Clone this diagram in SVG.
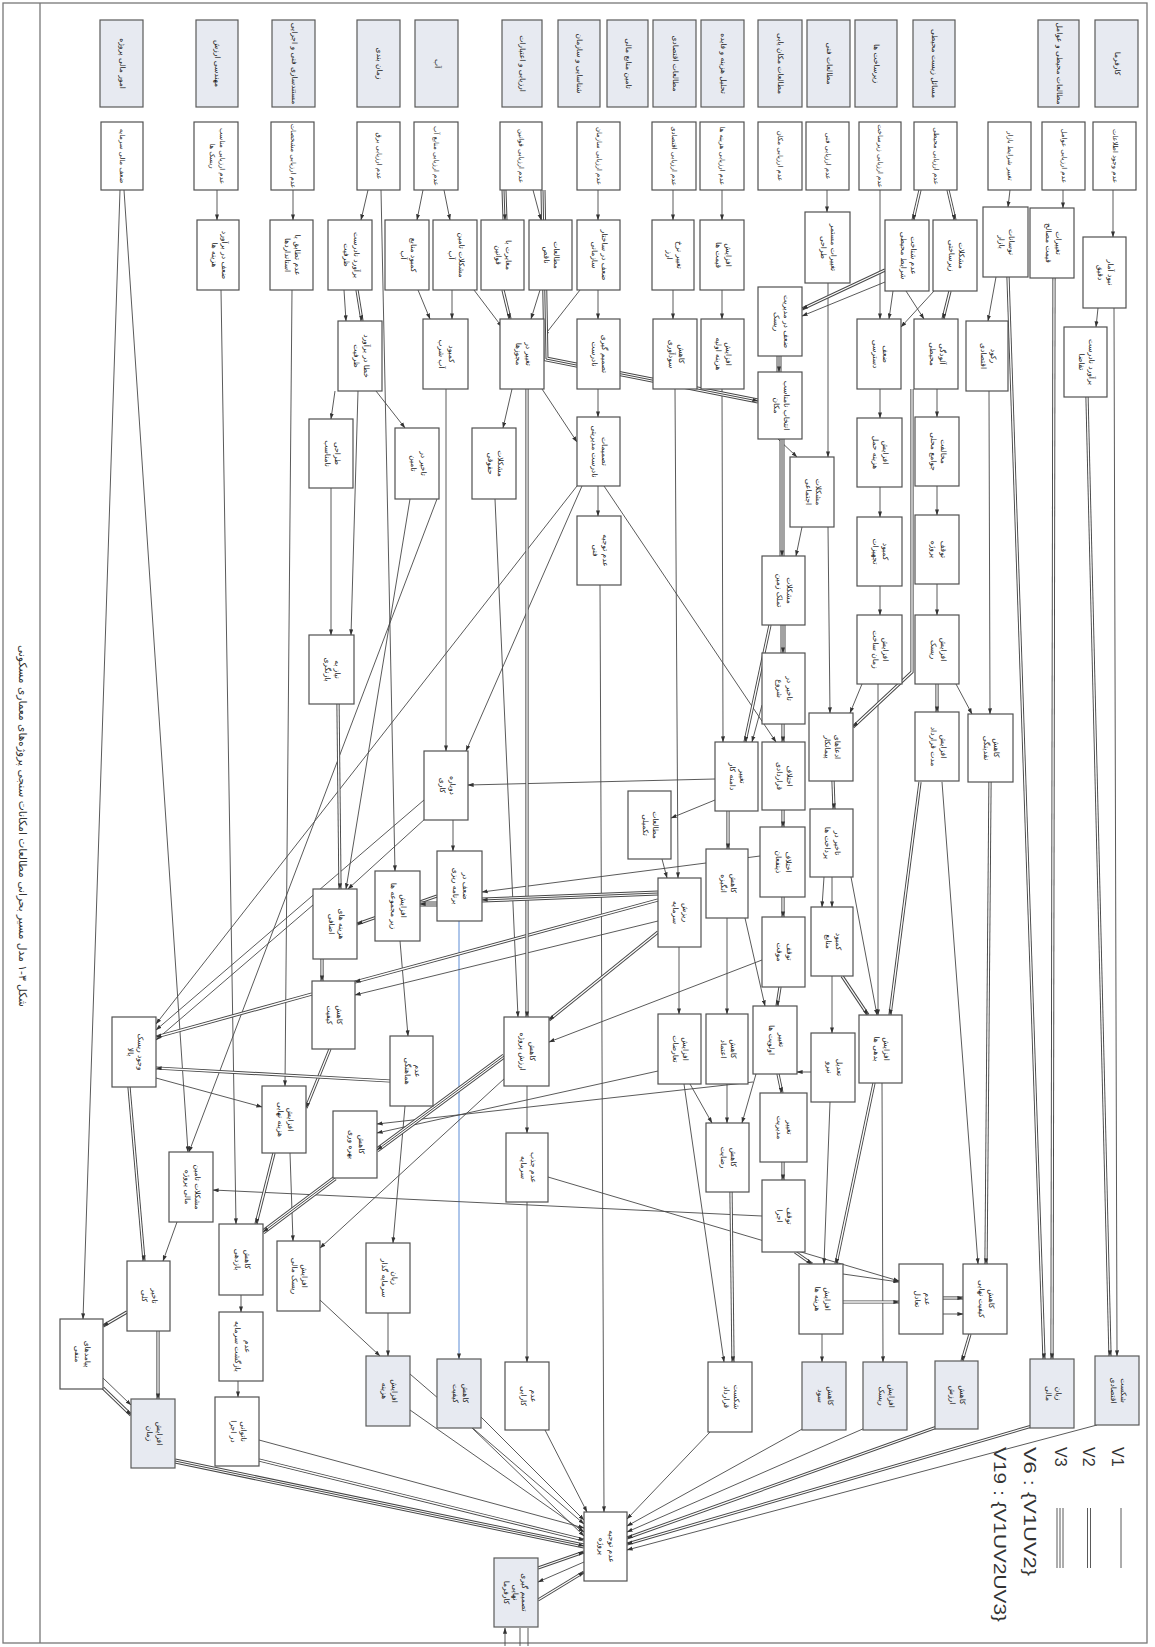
<svg xmlns="http://www.w3.org/2000/svg" width="1155" height="1647" viewBox="0 0 1155 1647">
<style>
.b rect{fill:#fff;stroke:#505050;stroke-width:1.2}
.h rect{fill:#e7eaf1;stroke:#5a5a5a;stroke-width:1.2}
text{font-family:"DejaVu Sans","Noto Sans",sans-serif;font-size:7.5px;fill:#1c1c1c;text-anchor:middle}
.sr text{font-size:6.8px}
.s{fill:none;stroke:#474747;stroke-width:0.9;marker-end:url(#a)}
.u{fill:none;stroke:#474747;stroke-width:0.9}
.bl{stroke:#4a7fd0}
.d polyline,.t polyline{fill:none}
.d :nth-child(1){stroke:#474747;stroke-width:3.2}
.d :nth-child(2){stroke:#fff;stroke-width:1.3;marker-end:url(#a)}
.t :nth-child(1){stroke:#474747;stroke-width:5}
.t :nth-child(2){stroke:#fff;stroke-width:3}
.t :nth-child(3){stroke:#474747;stroke-width:1;marker-end:url(#a)}
.lg{font-family:"Liberation Sans",Arial,sans-serif;font-size:16px;fill:#333;text-anchor:start}
.cap{font-size:11px;fill:#333}
.fr{fill:none;stroke:#777;stroke-width:1.3}
</style>
<defs>
<marker id="a" viewBox="0 0 8 6" refX="7.5" refY="3" markerWidth="6" markerHeight="4.5" orient="auto" markerUnits="userSpaceOnUse"><path d="M0,0.3L8,3L0,5.7z" fill="#333"/></marker>
</defs>
<rect width="1155" height="1647" fill="#fff"/>
<g id="frame">
<rect class="fr" x="3" y="3" width="1144" height="1640"/>
<line class="fr" x1="40" y1="3" x2="40" y2="1643"/>
<text class="cap" transform="translate(19,826) rotate(90)" textLength="362" lengthAdjust="spacingAndGlyphs">شکل ۳-۱ مدل مسیر بحرانی مطالعات امکانات سنجی پروژه‌های معماری مسکونی</text>
</g>
<g id="connectors">
<polyline class="s" points="124,190 188,1152"/>
<polyline class="s" points="120,190 83,1319"/>
<polyline class="s" points="217,190 217,220"/>
<polyline class="s" points="221,290 236,1224"/>
<polyline class="s" points="293,190 293,220"/>
<polyline class="s" points="292,290 285,1086"/>
<polyline class="s" points="368,190 361,220"/>
<polyline class="s" points="381,190 395,871"/>
<polyline class="s" points="344,290 346,321"/>
<polyline class="s" points="335,391 331,419"/>
<polyline class="s" points="358,391 351,635"/>
<polyline class="s" points="376,391 405,428"/>
<polyline class="s" points="331,488 331,635"/>
<polyline class="s" points="423,190 417,220"/>
<polyline class="s" points="444,190 450,220"/>
<polyline class="s" points="418,290 430,319"/>
<polyline class="s" points="452,290 452,319"/>
<polyline class="s" points="474,290 502,327"/>
<polyline class="s" points="446,389 446,751"/>
<polyline class="s" points="533,190 541,220"/>
<polyline class="s" points="540,290 531,319"/>
<polyline class="s" points="580,290 544,336"/>
<polyline class="s" points="598,190 598,220"/>
<polyline class="s" points="598,290 598,319"/>
<polyline class="s" points="673,190 673,220"/>
<polyline class="s" points="673,290 673,319"/>
<polyline class="s" points="722,190 722,220"/>
<polyline class="s" points="722,290 722,319"/>
<polyline class="s" points="512,389 503,428"/>
<polyline class="s" points="542,389 577,442"/>
<polyline class="s" points="598,389 598,417"/>
<polyline class="s" points="675,389 678,878"/>
<polyline class="s" points="722,389 723,742"/>
<polyline class="s" points="410,499 346,889"/>
<polyline class="s" points="437,499 189,1152"/>
<polyline class="s" points="577,486 156,1024"/>
<polyline class="s" points="582,486 466,751"/>
<polyline class="s" points="604,486 776,742"/>
<polyline class="s" points="598,486 598,516"/>
<polyline class="s" points="600,585 604,1512"/>
<polyline class="s" points="715,779 468,785"/>
<polyline class="s" points="715,800 671,818"/>
<polyline class="s" points="453,820 453,851"/>
<polyline class="s" points="426,818 348,889"/>
<polyline class="s" points="424,800 156,1030"/>
<polyline class="s" points="313,905 156,1040"/>
<polyline class="s" points="760,856 482,892"/>
<polyline class="s bl" points="459,921 459,1359"/>
<polyline class="s" points="658,921 355,995"/>
<polyline class="s" points="679,947 679,1014"/>
<polyline class="s" points="662,859 667,878"/>
<polyline class="s" points="727,918 727,1014"/>
<polyline class="s" points="745,918 765,1006"/>
<polyline class="s" points="762,960 549,1042"/>
<polyline class="s" points="527,1086 527,1133"/>
<polyline class="s" points="505,1078 320,1248"/>
<polyline class="s" points="690,1084 712,1123"/>
<polyline class="s" points="727,1084 727,1123"/>
<polyline class="s" points="756,1074 742,1123"/>
<polyline class="s" points="684,1084 724,1362"/>
<polyline class="s" points="710,1432 627,1519"/>
<polyline class="s" points="527,1202 527,1362"/>
<polyline class="s" points="548,1177 899,1281"/>
<polyline class="s" points="762,1216 213,1190"/>
<polyline class="s" points="658,1071 377,1133"/>
<polyline class="s" points="753,1082 377,1124"/>
<polyline class="s" points="156,1078 262,1107"/>
<polyline class="s" points="177,1222 163,1261"/>
<polyline class="s" points="103,1378 131,1405"/>
<polyline class="s" points="241,1295 241,1312"/>
<polyline class="s" points="238,1381 238,1397"/>
<polyline class="s" points="290,1153 293,1241"/>
<polyline class="s" points="320,1300 380,1356"/>
<polyline class="s" points="388,1313 388,1356"/>
<polyline class="s" points="405,1106 393,1243"/>
<polyline class="s" points="410,1374 584,1524"/>
<polyline class="s" points="410,1410 584,1532"/>
<polyline class="s" points="481,1417 584,1520"/>
<polyline class="s" points="472,1428 584,1536"/>
<polyline class="s" points="545,1430 587,1512"/>
<polyline class="s" points="259,1440 584,1528"/>
<polyline class="s" points="584,1562 538,1582"/>
<polyline class="s" points="505,1646 505,1628"/>
<polyline class="u" points="520,1646 520,1628"/>
<polyline class="u" points="528,1646 528,1628"/>
<polyline class="s" points="804,1428 627,1526"/>
<polyline class="s" points="865,1428 627,1532"/>
<polyline class="s" points="1097,1425 627,1550"/>
<polyline class="s" points="822,1334 822,1362"/>
<polyline class="s" points="843,1274 899,1282"/>
<polyline class="s" points="943,1314 963,1314"/>
<polyline class="s" points="882,1083 883,1362"/>
<polyline class="s" points="830,1102 824,1264"/>
<polyline class="s" points="832,976 832,1033"/>
<polyline class="s" points="832,877 832,907"/>
<polyline class="s" points="824,877 822,907"/>
<polyline class="s" points="851,877 877,1015"/>
<polyline class="s" points="942,782 978,1264"/>
<polyline class="s" points="828,283 828,457"/>
<polyline class="s" points="828,527 830,713"/>
<polyline class="s" points="827,190 827,212"/>
<polyline class="s" points="880,190 880,319"/>
<polyline class="s" points="934,291 901,327"/>
<polyline class="s" points="893,291 889,319"/>
<polyline class="s" points="906,291 924,319"/>
<polyline class="s" points="880,389 880,418"/>
<polyline class="s" points="937,389 937,417"/>
<polyline class="s" points="880,487 880,517"/>
<polyline class="s" points="880,586 880,615"/>
<polyline class="s" points="937,486 937,515"/>
<polyline class="s" points="937,584 937,615"/>
<polyline class="s" points="862,684 850,713"/>
<polyline class="s" points="878,684 878,1015"/>
<polyline class="s" points="956,684 972,714"/>
<polyline class="s" points="1010,190 1008,207"/>
<polyline class="s" points="1063,190 1063,208"/>
<polyline class="s" points="1113,190 1113,237"/>
<polyline class="s" points="1098,308 1096,327"/>
<polyline class="s" points="1114,308 1117,1356"/>
<polyline class="s" points="989,391 990,714"/>
<polyline class="s" points="996,277 988,321"/>
<polyline class="s" points="778,439 797,457"/>
<polyline class="s" points="802,527 796,556"/>
<polyline class="s" points="762,705 752,742"/>
<polyline class="s" points="811,1072 797,1072"/>
<polyline class="s" points="400,941 408,1036"/>
<polyline class="s" points="495,499 518,1017"/>
<polyline class="s" points="885,282 802,316"/>
<g class="d"><polyline points="357,290 362,321"/><polyline points="357,290 362,321"/></g>
<g class="d"><polyline points="503,290 510,319"/><polyline points="503,290 510,319"/></g>
<g class="d"><polyline points="338,704 340,889"/><polyline points="338,704 340,889"/></g>
<g class="d"><polyline points="885,270 802,309"/><polyline points="885,270 802,309"/></g>
<g class="d"><polyline points="950,291 943,319"/><polyline points="950,291 943,319"/></g>
<g class="d"><polyline points="920,190 913,220"/><polyline points="920,190 913,220"/></g>
<g class="d"><polyline points="948,190 955,220"/><polyline points="948,190 955,220"/></g>
<g class="d"><polyline points="658,900 355,982"/><polyline points="658,900 355,982"/></g>
<g class="d"><polyline points="437,896 357,924"/><polyline points="437,896 357,924"/></g>
<g class="d"><polyline points="658,932 549,1020"/><polyline points="658,932 549,1020"/></g>
<g class="d"><polyline points="728,811 728,849"/><polyline points="728,811 728,849"/></g>
<g class="d"><polyline points="731,1192 733,1362"/><polyline points="731,1192 733,1362"/></g>
<g class="d"><polyline points="312,994 156,1037"/><polyline points="312,994 156,1037"/></g>
<g class="d"><polyline points="322,959 322,981"/><polyline points="322,959 322,981"/></g>
<g class="d"><polyline points="330,1049 306,1108"/><polyline points="330,1049 306,1108"/></g>
<g class="d"><polyline points="129,1087 144,1261"/><polyline points="129,1087 144,1261"/></g>
<g class="d"><polyline points="127,1312 103,1326"/><polyline points="127,1312 103,1326"/></g>
<g class="d"><polyline points="103,1388 131,1415"/><polyline points="103,1388 131,1415"/></g>
<g class="d"><polyline points="158,1331 158,1399"/><polyline points="158,1331 158,1399"/></g>
<g class="d"><polyline points="274,1153 256,1224"/><polyline points="274,1153 256,1224"/></g>
<g class="d"><polyline points="259,1460 584,1540"/><polyline points="259,1460 584,1540"/></g>
<g class="d"><polyline points="538,1568 584,1552"/><polyline points="538,1568 584,1552"/></g>
<g class="d"><polyline points="538,1600 584,1572"/><polyline points="538,1600 584,1572"/></g>
<g class="d"><polyline points="937,1427 627,1538"/><polyline points="937,1427 627,1538"/></g>
<g class="d"><polyline points="1032,1426 627,1544"/><polyline points="1032,1426 627,1544"/></g>
<g class="d"><polyline points="843,1302 899,1302"/><polyline points="843,1302 899,1302"/></g>
<g class="d"><polyline points="943,1298 963,1298"/><polyline points="943,1298 963,1298"/></g>
<g class="d"><polyline points="970,1334 962,1361"/><polyline points="970,1334 962,1361"/></g>
<g class="d"><polyline points="874,1083 836,1264"/><polyline points="874,1083 836,1264"/></g>
<g class="d"><polyline points="842,976 868,1015"/><polyline points="842,976 868,1015"/></g>
<g class="d"><polyline points="920,782 890,1015"/><polyline points="920,782 890,1015"/></g>
<g class="d"><polyline points="990,782 986,1264"/><polyline points="990,782 986,1264"/></g>
<g class="d"><polyline points="833,781 834,809"/><polyline points="833,781 834,809"/></g>
<g class="d"><polyline points="912,389 912,672 853,727"/><polyline points="912,389 912,672 853,727"/></g>
<g class="d"><polyline points="937,684 937,712"/><polyline points="937,684 937,712"/></g>
<g class="d"><polyline points="1008,277 1044,1359"/><polyline points="1008,277 1044,1359"/></g>
<g class="d"><polyline points="1054,278 1052,1359"/><polyline points="1054,278 1052,1359"/></g>
<g class="d"><polyline points="1087,397 1110,1356"/><polyline points="1087,397 1110,1356"/></g>
<g class="d"><polyline points="783,724 783,742"/><polyline points="783,724 783,742"/></g>
<g class="d"><polyline points="770,625 745,742"/><polyline points="770,625 745,742"/></g>
<g class="d"><polyline points="783,810 783,827"/><polyline points="783,810 783,827"/></g>
<g class="d"><polyline points="783,897 783,917"/><polyline points="783,897 783,917"/></g>
<g class="d"><polyline points="780,987 777,1006"/><polyline points="780,987 777,1006"/></g>
<g class="d"><polyline points="778,1074 782,1093"/><polyline points="778,1074 782,1093"/></g>
<g class="d"><polyline points="783,1162 783,1180"/><polyline points="783,1162 783,1180"/></g>
<g class="d"><polyline points="390,1081 156,1068"/><polyline points="390,1081 156,1068"/></g>
<g class="d"><polyline points="527,389 527,1017"/><polyline points="527,389 527,1017"/></g>
<g class="d"><polyline points="795,1252 812,1264"/><polyline points="795,1252 812,1264"/></g>
<g class="t"><polyline points="504,190 505,220"/><polyline points="504,190 505,220"/><polyline points="504,190 505,220"/></g>
<g class="t"><polyline points="543,190 546,359 758,401"/><polyline points="543,190 546,359 758,401"/><polyline points="543,190 546,359 758,401"/></g>
<g class="t"><polyline points="779,356 779,372"/><polyline points="779,356 779,372"/><polyline points="779,356 779,372"/></g>
<g class="t"><polyline points="782,439 782,556"/><polyline points="782,439 782,556"/><polyline points="782,439 782,556"/></g>
<g class="t"><polyline points="783,625 783,653"/><polyline points="783,625 783,653"/><polyline points="783,625 783,653"/></g>
<g class="t"><polyline points="658,893 482,900"/><polyline points="658,893 482,900"/><polyline points="658,893 482,900"/></g>
<g class="t"><polyline points="437,904 420,904"/><polyline points="437,904 420,904"/><polyline points="437,904 420,904"/></g>
<g class="t"><polyline points="504,1056 377,1150"/><polyline points="504,1056 377,1150"/><polyline points="504,1056 377,1150"/></g>
<g class="t"><polyline points="335,1178 263,1232"/><polyline points="335,1178 263,1232"/><polyline points="335,1178 263,1232"/></g>
<g class="t"><polyline points="175,1461 584,1546"/><polyline points="175,1461 584,1546"/><polyline points="175,1461 584,1546"/></g>
</g>
<g id="nodes">
<g id="T1" class="h"><rect x="100" y="20" width="43" height="87"/><text transform="translate(119.5,63.5) rotate(90)">امور مالی پروژه</text></g>
<g id="T2" class="h"><rect x="196" y="20" width="42" height="87"/><text transform="translate(215,63.5) rotate(90)">مهندسی ارزش</text></g>
<g id="T3" class="h"><rect x="272" y="20" width="43" height="87"/><text transform="translate(291.5,63.5) rotate(90)">مستندسازی فنی و اجرایی</text></g>
<g id="T4" class="h"><rect x="357" y="20" width="43" height="87"/><text transform="translate(376.5,63.5) rotate(90)">زمان بندی</text></g>
<g id="T5" class="h"><rect x="415" y="20" width="43" height="87"/><text transform="translate(434.5,63.5) rotate(90)">آب</text></g>
<g id="T6" class="h"><rect x="502" y="20" width="40" height="87"/><text transform="translate(520,63.5) rotate(90)">ارزیابی و اعتبارات</text></g>
<g id="T7" class="h"><rect x="558" y="20" width="42" height="87"/><text transform="translate(577,63.5) rotate(90)">شناسایی و سازمان</text></g>
<g id="T8" class="h"><rect x="607" y="20" width="41" height="87"/><text transform="translate(625.5,63.5) rotate(90)">تامین منابع مالی</text></g>
<g id="T9" class="h"><rect x="653" y="20" width="43" height="87"/><text transform="translate(672.5,63.5) rotate(90)">مطالعات اقتصادی</text></g>
<g id="T10" class="h"><rect x="701" y="20" width="43" height="87"/><text transform="translate(720.5,63.5) rotate(90)">تحلیل هزینه و فایده</text></g>
<g id="T11" class="h"><rect x="758" y="20" width="44" height="87"/><text transform="translate(778,63.5) rotate(90)">مطالعات مکان یابی</text></g>
<g id="T12" class="h"><rect x="807" y="20" width="43" height="87"/><text transform="translate(826.5,63.5) rotate(90)">مطالعات فنی</text></g>
<g id="T13" class="h"><rect x="855" y="20" width="42" height="87"/><text transform="translate(874,63.5) rotate(90)">زیرساخت ها</text></g>
<g id="T14" class="h"><rect x="913" y="20" width="42" height="87"/><text transform="translate(932,63.5) rotate(90)">مسائل زیست محیطی</text></g>
<g id="T15" class="h"><rect x="1038" y="20" width="41" height="87"/><text transform="translate(1056.5,63.5) rotate(90)">مطالعات محیطی و عوامل</text></g>
<g id="T16" class="h"><rect x="1095" y="20" width="43" height="87"/><text transform="translate(1114.5,63.5) rotate(90)">کارفرما</text></g>

<g id="S1" class="b sr"><rect x="101" y="122" width="42" height="68"/><text transform="translate(120,156) rotate(90)">ضعف مالی سرمایه</text></g>
<g id="S2" class="b sr"><rect x="194" y="122" width="44" height="68"/><text transform="translate(219.5,156) rotate(90)"><tspan x="0">عدم ارزیابی مناسب</tspan><tspan x="0" dy="10">ریسک ها</tspan></text></g>
<g id="S3" class="b sr"><rect x="271" y="122" width="43" height="68"/><text transform="translate(290.5,156) rotate(90)">عدم ارزیابی مشخصات</text></g>
<g id="S4" class="b sr"><rect x="357" y="122" width="43" height="68"/><text transform="translate(376.5,156) rotate(90)">عدم ارزیابی برق</text></g>
<g id="S5" class="b sr"><rect x="414" y="122" width="44" height="68"/><text transform="translate(434,156) rotate(90)">عدم ارزیابی منابع آب</text></g>
<g id="S6" class="b sr"><rect x="500" y="122" width="42" height="68"/><text transform="translate(519,156) rotate(90)">عدم ارزیابی قوانین</text></g>
<g id="S7" class="b sr"><rect x="577" y="122" width="43" height="68"/><text transform="translate(596.5,156) rotate(90)">عدم ارزیابی سازمان</text></g>
<g id="S8" class="b sr"><rect x="652" y="122" width="44" height="68"/><text transform="translate(672,156) rotate(90)">عدم ارزیابی اقتصادی</text></g>
<g id="S9" class="b sr"><rect x="700" y="122" width="44" height="68"/><text transform="translate(720,156) rotate(90)">عدم ارزیابی هزینه ها</text></g>
<g id="S10" class="b sr"><rect x="758" y="122" width="44" height="68"/><text transform="translate(778,156) rotate(90)">عدم ارزیابی مکان</text></g>
<g id="S11" class="b sr"><rect x="806" y="122" width="43" height="68"/><text transform="translate(825.5,156) rotate(90)">عدم ارزیابی فنی</text></g>
<g id="S12" class="b sr"><rect x="859" y="122" width="42" height="68"/><text transform="translate(878,156) rotate(90)">عدم ارزیابی زیرساخت</text></g>
<g id="S13" class="b sr"><rect x="914" y="122" width="43" height="68"/><text transform="translate(933.5,156) rotate(90)">عدم ارزیابی محیطی</text></g>
<g id="S14" class="b sr"><rect x="988" y="122" width="43" height="68"/><text transform="translate(1007.5,156) rotate(90)">تغییر شرایط بازار</text></g>
<g id="S15" class="b sr"><rect x="1042" y="122" width="43" height="68"/><text transform="translate(1061.5,156) rotate(90)">عدم ارزیابی عوامل</text></g>
<g id="S16" class="b sr"><rect x="1093" y="122" width="43" height="68"/><text transform="translate(1112.5,156) rotate(90)">عدم وجود اطلاعات</text></g>

<g id="a3_1" class="b"><rect x="197" y="220" width="42" height="70"/><text transform="translate(221.5,255) rotate(90)"><tspan x="0">ضعف در برآورد</tspan><tspan x="0" dy="10">هزینه ها</tspan></text></g>
<g id="a3_2" class="b"><rect x="270" y="220" width="43" height="70"/><text transform="translate(295,255) rotate(90)"><tspan x="0">عدم تطابق با</tspan><tspan x="0" dy="10">استانداردها</tspan></text></g>
<g id="a3_3" class="b"><rect x="328" y="220" width="44" height="70"/><text transform="translate(353.5,255) rotate(90)"><tspan x="0">برآورد نادرست</tspan><tspan x="0" dy="10">ظرفیت</tspan></text></g>
<g id="a3_4" class="b"><rect x="385" y="220" width="44" height="70"/><text transform="translate(410.5,255) rotate(90)"><tspan x="0">کمبود منابع</tspan><tspan x="0" dy="10">آب</tspan></text></g>
<g id="a3_5" class="b"><rect x="433" y="220" width="44" height="70"/><text transform="translate(458.5,255) rotate(90)"><tspan x="0">مشکلات تامین</tspan><tspan x="0" dy="10">آب</tspan></text></g>
<g id="a3_6" class="b"><rect x="481" y="220" width="43" height="70"/><text transform="translate(506,255) rotate(90)"><tspan x="0">مغایرت با</tspan><tspan x="0" dy="10">قوانین</tspan></text></g>
<g id="a3_7" class="b"><rect x="529" y="220" width="43" height="70"/><text transform="translate(554,255) rotate(90)"><tspan x="0">مطالعات</tspan><tspan x="0" dy="10">ناقص</tspan></text></g>
<g id="a3_8" class="b"><rect x="577" y="220" width="43" height="70"/><text transform="translate(602,255) rotate(90)"><tspan x="0">ضعف در ساختار</tspan><tspan x="0" dy="10">سازمانی</tspan></text></g>
<g id="a3_9" class="b"><rect x="652" y="220" width="42" height="70"/><text transform="translate(676.5,255) rotate(90)"><tspan x="0">تغییر نرخ</tspan><tspan x="0" dy="10">ارز</tspan></text></g>
<g id="a3_10" class="b"><rect x="700" y="220" width="44" height="70"/><text transform="translate(725.5,255) rotate(90)"><tspan x="0">افزایش</tspan><tspan x="0" dy="10">قیمت ها</tspan></text></g>
<g id="K" class="b"><rect x="758" y="287" width="44" height="69"/><text transform="translate(783.5,321.5) rotate(90)"><tspan x="0">ضعف در مدیریت</tspan><tspan x="0" dy="10">ریسک</tspan></text></g>
<g id="A" class="b"><rect x="805" y="212" width="45" height="71"/><text transform="translate(831,247.5) rotate(90)"><tspan x="0">تغییرات مستمر</tspan><tspan x="0" dy="10">طراحی</tspan></text></g>
<g id="B" class="b"><rect x="885" y="220" width="44" height="71"/><text transform="translate(910.5,255.5) rotate(90)"><tspan x="0">عدم شناخت</tspan><tspan x="0" dy="10">شرایط محیطی</tspan></text></g>
<g id="C" class="b"><rect x="933" y="220" width="44" height="71"/><text transform="translate(958.5,255.5) rotate(90)"><tspan x="0">مشکلات</tspan><tspan x="0" dy="10">زیرساختی</tspan></text></g>
<g id="D" class="b"><rect x="983" y="207" width="45" height="70"/><text transform="translate(1009,242) rotate(90)"><tspan x="0">نوسانات</tspan><tspan x="0" dy="10">بازار</tspan></text></g>
<g id="E" class="b"><rect x="1030" y="208" width="44" height="70"/><text transform="translate(1055.5,243) rotate(90)"><tspan x="0">تغییرات</tspan><tspan x="0" dy="10">قیمت مصالح</tspan></text></g>
<g id="F" class="b"><rect x="1083" y="237" width="43" height="71"/><text transform="translate(1108,272.5) rotate(90)"><tspan x="0">نبود آمار</tspan><tspan x="0" dy="10">دقیق</tspan></text></g>

<g id="b4_1" class="b"><rect x="338" y="321" width="44" height="70"/><text transform="translate(363.5,356) rotate(90)"><tspan x="0">خطا در برآورد</tspan><tspan x="0" dy="10">ظرفیت</tspan></text></g>
<g id="b4_2" class="b"><rect x="423" y="319" width="45" height="70"/><text transform="translate(449,354) rotate(90)"><tspan x="0">کمبود</tspan><tspan x="0" dy="10">آب شرب</tspan></text></g>
<g id="b4_3" class="b"><rect x="500" y="319" width="44" height="70"/><text transform="translate(525.5,354) rotate(90)"><tspan x="0">تغییر در</tspan><tspan x="0" dy="10">مجوزها</tspan></text></g>
<g id="b4_4" class="b"><rect x="577" y="319" width="43" height="70"/><text transform="translate(602,354) rotate(90)"><tspan x="0">تصمیم گیری</tspan><tspan x="0" dy="10">نادرست</tspan></text></g>
<g id="b4_5" class="b"><rect x="653" y="319" width="44" height="70"/><text transform="translate(678.5,354) rotate(90)"><tspan x="0">کاهش</tspan><tspan x="0" dy="10">سودآوری</tspan></text></g>
<g id="b4_6" class="b"><rect x="701" y="319" width="43" height="70"/><text transform="translate(726,354) rotate(90)"><tspan x="0">افزایش</tspan><tspan x="0" dy="10">هزینه اولیه</tspan></text></g>
<g id="L" class="b"><rect x="758" y="372" width="44" height="67"/><text transform="translate(783.5,405.5) rotate(90)"><tspan x="0">انتخاب نامناسب</tspan><tspan x="0" dy="10">مکان</tspan></text></g>
<g id="G" class="b"><rect x="857" y="319" width="44" height="70"/><text transform="translate(882.5,354) rotate(90)"><tspan x="0">ضعف</tspan><tspan x="0" dy="10">دسترسی</tspan></text></g>
<g id="H" class="b"><rect x="914" y="319" width="44" height="70"/><text transform="translate(939.5,354) rotate(90)"><tspan x="0">آلودگی</tspan><tspan x="0" dy="10">محیطی</tspan></text></g>
<g id="I" class="b"><rect x="966" y="321" width="42" height="70"/><text transform="translate(990.5,356) rotate(90)"><tspan x="0">رکود</tspan><tspan x="0" dy="10">اقتصادی</tspan></text></g>
<g id="J" class="b"><rect x="1064" y="327" width="43" height="70"/><text transform="translate(1089,362) rotate(90)"><tspan x="0">برآورد نادرست</tspan><tspan x="0" dy="10">تقاضا</tspan></text></g>

<g id="c5_1" class="b"><rect x="309" y="419" width="44" height="69"/><text transform="translate(334.5,453.5) rotate(90)"><tspan x="0">طراحی</tspan><tspan x="0" dy="10">نامناسب</tspan></text></g>
<g id="c5_2" class="b"><rect x="395" y="428" width="44" height="71"/><text transform="translate(420.5,463.5) rotate(90)"><tspan x="0">تاخیر در</tspan><tspan x="0" dy="10">تامین</tspan></text></g>
<g id="c5_3" class="b"><rect x="472" y="428" width="44" height="71"/><text transform="translate(497.5,463.5) rotate(90)"><tspan x="0">مشکلات</tspan><tspan x="0" dy="10">حقوقی</tspan></text></g>
<g id="c5_4" class="b"><rect x="577" y="417" width="43" height="69"/><text transform="translate(602,451.5) rotate(90)"><tspan x="0">تصمیمات</tspan><tspan x="0" dy="10">نادرست مدیریتی</tspan></text></g>
<g id="M" class="b"><rect x="790" y="457" width="44" height="70"/><text transform="translate(815.5,492) rotate(90)"><tspan x="0">مشکلات</tspan><tspan x="0" dy="10">اجتماعی</tspan></text></g>
<g id="c5_5" class="b"><rect x="857" y="418" width="45" height="69"/><text transform="translate(883,452.5) rotate(90)"><tspan x="0">افزایش</tspan><tspan x="0" dy="10">هزینه حمل</tspan></text></g>
<g id="c5_6" class="b"><rect x="915" y="417" width="44" height="69"/><text transform="translate(940.5,451.5) rotate(90)"><tspan x="0">مخالفت</tspan><tspan x="0" dy="10">جوامع محلی</tspan></text></g>

<g id="d6_1" class="b"><rect x="577" y="516" width="44" height="69"/><text transform="translate(602.5,550.5) rotate(90)"><tspan x="0">عدم توجیه</tspan><tspan x="0" dy="10">فنی</tspan></text></g>
<g id="N" class="b"><rect x="762" y="556" width="43" height="69"/><text transform="translate(787,590.5) rotate(90)"><tspan x="0">مشکلات</tspan><tspan x="0" dy="10">تملک زمین</tspan></text></g>
<g id="d6_2" class="b"><rect x="857" y="517" width="45" height="69"/><text transform="translate(883,551.5) rotate(90)"><tspan x="0">کمبود</tspan><tspan x="0" dy="10">تجهیزات</tspan></text></g>
<g id="d6_3" class="b"><rect x="915" y="515" width="44" height="69"/><text transform="translate(940.5,549.5) rotate(90)"><tspan x="0">توقف</tspan><tspan x="0" dy="10">پروژه</tspan></text></g>

<g id="e7_1" class="b"><rect x="309" y="635" width="45" height="69"/><text transform="translate(335,669.5) rotate(90)"><tspan x="0">نیاز به</tspan><tspan x="0" dy="10">بازنگری</tspan></text></g>
<g id="O" class="b"><rect x="762" y="653" width="43" height="71"/><text transform="translate(787,688.5) rotate(90)"><tspan x="0">تاخیر در</tspan><tspan x="0" dy="10">شروع</tspan></text></g>
<g id="e7_2" class="b"><rect x="857" y="615" width="45" height="69"/><text transform="translate(883,649.5) rotate(90)"><tspan x="0">افزایش</tspan><tspan x="0" dy="10">زمان ساخت</tspan></text></g>
<g id="e7_3" class="b"><rect x="915" y="615" width="44" height="69"/><text transform="translate(940.5,649.5) rotate(90)"><tspan x="0">افزایش</tspan><tspan x="0" dy="10">ریسک</tspan></text></g>

<g id="f8_1" class="b"><rect x="424" y="751" width="44" height="69"/><text transform="translate(449.5,785.5) rotate(90)"><tspan x="0">دوباره</tspan><tspan x="0" dy="10">کاری</tspan></text></g>
<g id="f8_2" class="b"><rect x="628" y="791" width="43" height="68"/><text transform="translate(653,825) rotate(90)"><tspan x="0">مطالعات</tspan><tspan x="0" dy="10">تکمیلی</tspan></text></g>
<g id="f8_3" class="b"><rect x="715" y="742" width="43" height="69"/><text transform="translate(740,776.5) rotate(90)"><tspan x="0">تغییر</tspan><tspan x="0" dy="10">دامنه کار</tspan></text></g>
<g id="f8_4" class="b"><rect x="762" y="742" width="43" height="68"/><text transform="translate(787,776) rotate(90)"><tspan x="0">اختلاف</tspan><tspan x="0" dy="10">قراردادی</tspan></text></g>
<g id="f8_5" class="b"><rect x="809" y="713" width="44" height="68"/><text transform="translate(834.5,747) rotate(90)"><tspan x="0">ادعاهای</tspan><tspan x="0" dy="10">پیمانکار</tspan></text></g>
<g id="f8_6" class="b"><rect x="915" y="712" width="44" height="69"/><text transform="translate(940.5,746.5) rotate(90)"><tspan x="0">افزایش</tspan><tspan x="0" dy="10">مدت قرارداد</tspan></text></g>
<g id="f8_7" class="b"><rect x="968" y="714" width="45" height="68"/><text transform="translate(994,748) rotate(90)"><tspan x="0">کاهش</tspan><tspan x="0" dy="10">نقدینگی</tspan></text></g>

<g id="g9_1" class="b"><rect x="313" y="889" width="44" height="70"/><text transform="translate(338.5,924) rotate(90)"><tspan x="0">هزینه های</tspan><tspan x="0" dy="10">اضافی</tspan></text></g>
<g id="g9_2" class="b"><rect x="375" y="871" width="45" height="70"/><text transform="translate(401,906) rotate(90)"><tspan x="0">افزایش</tspan><tspan x="0" dy="10">زیر مجموعه ها</tspan></text></g>
<g id="g9_3" class="b"><rect x="437" y="851" width="45" height="70"/><text transform="translate(463,886) rotate(90)"><tspan x="0">ضعف در</tspan><tspan x="0" dy="10">برنامه ریزی</tspan></text></g>
<g id="g9_4" class="b"><rect x="658" y="878" width="43" height="69"/><text transform="translate(683,912.5) rotate(90)"><tspan x="0">ریزش</tspan><tspan x="0" dy="10">سرمایه</tspan></text></g>
<g id="g9_5" class="b"><rect x="706" y="849" width="42" height="69"/><text transform="translate(730.5,883.5) rotate(90)"><tspan x="0">کاهش</tspan><tspan x="0" dy="10">انگیزه</tspan></text></g>
<g id="g9_6" class="b"><rect x="760" y="827" width="45" height="70"/><text transform="translate(786,862) rotate(90)"><tspan x="0">اختلاف</tspan><tspan x="0" dy="10">ذینفعان</tspan></text></g>
<g id="g9_7" class="b"><rect x="810" y="809" width="43" height="68"/><text transform="translate(835,843) rotate(90)"><tspan x="0">تاخیر در</tspan><tspan x="0" dy="10">پرداخت ها</tspan></text></g>

<g id="h10_1" class="b"><rect x="312" y="981" width="43" height="68"/><text transform="translate(337,1015) rotate(90)"><tspan x="0">کاهش</tspan><tspan x="0" dy="10">کیفیت</tspan></text></g>
<g id="h10_2" class="b"><rect x="762" y="917" width="43" height="70"/><text transform="translate(787,952) rotate(90)"><tspan x="0">توقف</tspan><tspan x="0" dy="10">موقت</tspan></text></g>
<g id="h10_3" class="b"><rect x="811" y="907" width="42" height="69"/><text transform="translate(835.5,941.5) rotate(90)"><tspan x="0">کمبود</tspan><tspan x="0" dy="10">منابع</tspan></text></g>

<g id="i11_1" class="b"><rect x="112" y="1017" width="44" height="70"/><text transform="translate(137.5,1052) rotate(90)"><tspan x="0">وجود ریسک</tspan><tspan x="0" dy="10">بالا</tspan></text></g>
<g id="i11_2" class="b"><rect x="262" y="1086" width="44" height="67"/><text transform="translate(287.5,1119.5) rotate(90)"><tspan x="0">افزایش</tspan><tspan x="0" dy="10">هزینه نهایی</tspan></text></g>
<g id="i11_3" class="b"><rect x="333" y="1111" width="44" height="67"/><text transform="translate(358.5,1144.5) rotate(90)"><tspan x="0">کاهش</tspan><tspan x="0" dy="10">بهره وری</tspan></text></g>
<g id="i11_4" class="b"><rect x="390" y="1036" width="43" height="70"/><text transform="translate(415,1071) rotate(90)"><tspan x="0">عدم</tspan><tspan x="0" dy="10">هماهنگی</tspan></text></g>
<g id="i11_5" class="b"><rect x="504" y="1017" width="45" height="69"/><text transform="translate(530,1051.5) rotate(90)"><tspan x="0">کاهش</tspan><tspan x="0" dy="10">ارزش پروژه</tspan></text></g>
<g id="i11_6" class="b"><rect x="658" y="1014" width="43" height="70"/><text transform="translate(683,1049) rotate(90)"><tspan x="0">افزایش</tspan><tspan x="0" dy="10">تعارضات</tspan></text></g>
<g id="i11_7" class="b"><rect x="706" y="1014" width="42" height="70"/><text transform="translate(730.5,1049) rotate(90)"><tspan x="0">کاهش</tspan><tspan x="0" dy="10">اعتماد</tspan></text></g>
<g id="i11_8" class="b"><rect x="753" y="1006" width="44" height="68"/><text transform="translate(778.5,1040) rotate(90)"><tspan x="0">تغییر</tspan><tspan x="0" dy="10">اولویت ها</tspan></text></g>
<g id="i11_9" class="b"><rect x="811" y="1033" width="44" height="69"/><text transform="translate(836.5,1067.5) rotate(90)"><tspan x="0">تعدیل</tspan><tspan x="0" dy="10">نیرو</tspan></text></g>
<g id="i11_10" class="b"><rect x="859" y="1015" width="43" height="68"/><text transform="translate(884,1049) rotate(90)"><tspan x="0">افزایش</tspan><tspan x="0" dy="10">بدهی ها</tspan></text></g>

<g id="j12_1" class="b"><rect x="169" y="1152" width="44" height="70"/><text transform="translate(194.5,1187) rotate(90)"><tspan x="0">مشکلات تامین</tspan><tspan x="0" dy="10">مالی پروژه</tspan></text></g>
<g id="j12_2" class="b"><rect x="506" y="1133" width="42" height="69"/><text transform="translate(530.5,1167.5) rotate(90)"><tspan x="0">عدم جذب</tspan><tspan x="0" dy="10">سرمایه</tspan></text></g>
<g id="j12_3" class="b"><rect x="706" y="1123" width="43" height="69"/><text transform="translate(731,1157.5) rotate(90)"><tspan x="0">کاهش</tspan><tspan x="0" dy="10">رضایت</tspan></text></g>
<g id="j12_4" class="b"><rect x="760" y="1093" width="47" height="69"/><text transform="translate(787,1127.5) rotate(90)"><tspan x="0">تغییر</tspan><tspan x="0" dy="10">مدیریت</tspan></text></g>

<g id="k13_1" class="b"><rect x="219" y="1224" width="44" height="71"/><text transform="translate(244.5,1259.5) rotate(90)"><tspan x="0">کاهش</tspan><tspan x="0" dy="10">بازدهی</tspan></text></g>
<g id="k13_2" class="b"><rect x="277" y="1241" width="43" height="70"/><text transform="translate(302,1276) rotate(90)"><tspan x="0">افزایش</tspan><tspan x="0" dy="10">ریسک مالی</tspan></text></g>
<g id="k13_3" class="b"><rect x="127" y="1261" width="43" height="70"/><text transform="translate(152,1296) rotate(90)"><tspan x="0">تاخیر</tspan><tspan x="0" dy="10">کلی</tspan></text></g>
<g id="k13_4" class="b"><rect x="366" y="1243" width="44" height="70"/><text transform="translate(391.5,1278) rotate(90)"><tspan x="0">زیان</tspan><tspan x="0" dy="10">سرمایه گذار</tspan></text></g>
<g id="k13_5" class="b"><rect x="762" y="1180" width="43" height="72"/><text transform="translate(787,1216) rotate(90)"><tspan x="0">توقف</tspan><tspan x="0" dy="10">اجرا</tspan></text></g>
<g id="k13_6" class="b"><rect x="799" y="1264" width="44" height="70"/><text transform="translate(824.5,1299) rotate(90)"><tspan x="0">افزایش</tspan><tspan x="0" dy="10">هزینه ها</tspan></text></g>
<g id="k13_7" class="b"><rect x="899" y="1264" width="44" height="70"/><text transform="translate(924.5,1299) rotate(90)"><tspan x="0">عدم</tspan><tspan x="0" dy="10">تعادل</tspan></text></g>
<g id="k13_8" class="b"><rect x="963" y="1264" width="44" height="70"/><text transform="translate(988.5,1299) rotate(90)"><tspan x="0">کاهش</tspan><tspan x="0" dy="10">کیفیت نهایی</tspan></text></g>

<g id="l14_1" class="b"><rect x="60" y="1319" width="43" height="70"/><text transform="translate(85,1354) rotate(90)"><tspan x="0">پیامدهای</tspan><tspan x="0" dy="10">منفی</tspan></text></g>
<g id="l14_2" class="b"><rect x="219" y="1312" width="44" height="69"/><text transform="translate(244.5,1346.5) rotate(90)"><tspan x="0">عدم</tspan><tspan x="0" dy="10">بازگشت سرمایه</tspan></text></g>
<g id="l14_3" class="b"><rect x="215" y="1397" width="44" height="69"/><text transform="translate(240.5,1431.5) rotate(90)"><tspan x="0">ناتوانی</tspan><tspan x="0" dy="10">در اجرا</tspan></text></g>
<g id="l14_4" class="h"><rect x="131" y="1399" width="44" height="69"/><text transform="translate(156.5,1433.5) rotate(90)"><tspan x="0">افزایش</tspan><tspan x="0" dy="10">زمان</tspan></text></g>
<g id="l14_5" class="h"><rect x="366" y="1356" width="44" height="70"/><text transform="translate(391.5,1391) rotate(90)"><tspan x="0">افزایش</tspan><tspan x="0" dy="10">هزینه</tspan></text></g>
<g id="l14_6" class="h"><rect x="437" y="1359" width="44" height="69"/><text transform="translate(462.5,1393.5) rotate(90)"><tspan x="0">کاهش</tspan><tspan x="0" dy="10">کیفیت</tspan></text></g>
<g id="l14_7" class="b"><rect x="505" y="1362" width="44" height="68"/><text transform="translate(530.5,1396) rotate(90)"><tspan x="0">عدم</tspan><tspan x="0" dy="10">کارایی</tspan></text></g>
<g id="l14_8" class="b"><rect x="708" y="1362" width="44" height="70"/><text transform="translate(733.5,1397) rotate(90)"><tspan x="0">شکست</tspan><tspan x="0" dy="10">قرارداد</tspan></text></g>
<g id="l14_9" class="h"><rect x="802" y="1362" width="44" height="68"/><text transform="translate(827.5,1396) rotate(90)"><tspan x="0">کاهش</tspan><tspan x="0" dy="10">سود</tspan></text></g>
<g id="l14_10" class="h"><rect x="863" y="1362" width="44" height="68"/><text transform="translate(888.5,1396) rotate(90)"><tspan x="0">افزایش</tspan><tspan x="0" dy="10">ریسک</tspan></text></g>
<g id="l14_11" class="h"><rect x="935" y="1361" width="43" height="68"/><text transform="translate(960,1395) rotate(90)"><tspan x="0">کاهش</tspan><tspan x="0" dy="10">ارزش</tspan></text></g>
<g id="l14_12" class="h"><rect x="1030" y="1359" width="44" height="69"/><text transform="translate(1055.5,1393.5) rotate(90)"><tspan x="0">زیان</tspan><tspan x="0" dy="10">مالی</tspan></text></g>
<g id="l14_13" class="h"><rect x="1095" y="1356" width="44" height="69"/><text transform="translate(1120.5,1390.5) rotate(90)"><tspan x="0">شکست</tspan><tspan x="0" dy="10">اقتصادی</tspan></text></g>

<g id="Z" class="b"><rect x="584" y="1512" width="43" height="69"/><text transform="translate(609,1546.5) rotate(90)"><tspan x="0">عدم توجیه</tspan><tspan x="0" dy="10">پروژه</tspan></text></g>
<g id="W" class="h"><rect x="494" y="1558" width="44" height="69"/><text transform="translate(522,1592.5) rotate(90)"><tspan x="0">تصمیم گیری</tspan><tspan x="0" dy="9">نهایی</tspan><tspan x="0" dy="9">کارفرما</tspan></text></g>
</g>
<g id="legend">
<text class="lg" transform="translate(1112,1447) rotate(90)">V1</text>
<text class="lg" transform="translate(1083,1447) rotate(90)">V2</text>
<text class="lg" transform="translate(1055,1447) rotate(90)">V3</text>
<text class="lg" transform="translate(1024,1447) rotate(90)" textLength="129" lengthAdjust="spacingAndGlyphs">V6 : {V1UV2}</text>
<text class="lg" transform="translate(994,1447) rotate(90)" textLength="175" lengthAdjust="spacingAndGlyphs">V19 : {V1UV2UV3}</text>
<line class="u" x1="1121" y1="1508" x2="1121" y2="1568"/>
<line class="u" x1="1087.5" y1="1508" x2="1087.5" y2="1568"/>
<line class="u" x1="1090.5" y1="1508" x2="1090.5" y2="1568"/>
<line class="u" x1="1057" y1="1508" x2="1057" y2="1568"/>
<line class="u" x1="1060" y1="1508" x2="1060" y2="1568"/>
<line class="u" x1="1063" y1="1508" x2="1063" y2="1568"/>
</g>
</svg>
